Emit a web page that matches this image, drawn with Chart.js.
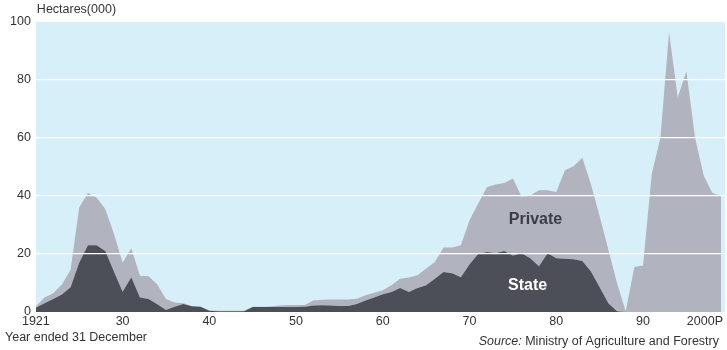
<!DOCTYPE html>
<html>
<head>
<meta charset="utf-8">
<title>New forest planting 1921-2000</title>
<script src="https://cdn.jsdelivr.net/npm/chart.js@4.4.0/dist/chart.umd.min.js"></script>
<style>
  html, body { margin: 0; padding: 0; background: #ffffff; }
  #plantingChart { display: block; }
</style>
</head>
<body>
<canvas id="plantingChart" width="727" height="350"></canvas>
<script>
// Planting years (year ended 31 December)
const years = [
  1921, 1922, 1923, 1924, 1925, 1926, 1927, 1928, 1929, 1930,
  1931, 1932, 1933, 1934, 1935, 1936, 1937, 1938, 1939, 1940,
  1941, 1942, 1943, 1944, 1945, 1946, 1947, 1948, 1949, 1950,
  1951, 1952, 1953, 1954, 1955, 1956, 1957, 1958, 1959, 1960,
  1961, 1962, 1963, 1964, 1965, 1966, 1967, 1968, 1969, 1970,
  1971, 1972, 1973, 1974, 1975, 1976, 1977, 1978, 1979, 1980,
  1981, 1982, 1983, 1984, 1985, 1986, 1987, 1988, 1989, 1990,
  1991, 1992, 1993, 1994, 1995, 1996, 1997, 1998, 1999, 2000
];

// New planting, hectares (000)
const statePlanting = [
  1.5, 3.0, 4.5, 6.0, 8.5, 17.0, 23.0, 23.0, 21.0, 14.0,
  7.0, 12.0, 5.0, 4.5, 2.7, 0.7, 1.8, 2.8, 2.0, 1.8,
  0.4, 0.3, 0.3, 0.3, 0.3, 1.7, 1.7, 1.7, 1.7, 1.7,
  1.7, 1.8, 2.2, 2.3, 2.2, 2.1, 2.1, 2.8, 4.0, 5.0,
  6.1, 6.9, 8.3, 6.9, 8.3, 9.2, 11.5, 13.8, 13.4, 12.0,
  16.5, 20.0, 20.7, 20.3, 21.0, 19.5, 20.3, 18.5, 15.8, 20.3,
  18.5, 18.4, 18.2, 17.6, 14.0, 8.5, 3.0, 0.3, 0, 0,
  0, 0, 0, 0, 0, 0, 0, 0, 0, 0
];

const privatePlanting = [
  0.5, 2.0, 2.0, 3.5, 6.0, 19.0, 18.0, 16.5, 14.5, 13.0,
  10.0, 10.0, 7.5, 7.8, 6.8, 3.8, 1.5, 0.2, 0, 0,
  0.1, 0.1, 0.1, 0.1, 0.1, 0.1, 0.1, 0.2, 0.5, 0.7,
  0.7, 0.6, 1.8, 1.9, 2.1, 2.2, 2.2, 1.8, 1.8, 1.6,
  1.4, 2.3, 3.2, 5.0, 4.4, 5.8, 5.7, 8.4, 8.8, 11.0,
  15.1, 17.4, 22.3, 23.7, 23.5, 26.5, 19.4, 21.7, 26.2, 21.7,
  22.9, 30.5, 32.1, 35.6, 30.0, 24.5, 18.5, 9.7, 0.3, 15.5,
  16.0, 47.5, 60.0, 96.5, 74.0, 83.0, 60.0, 47.0, 41.0, 40.0
];

// Axis labels
const xTickYears = [1921, 1931, 1941, 1951, 1961, 1971, 1981, 1991, 2000];
const xTickLabels = ['1921', '30', '40', '50', '60', '70', '80', '90', '2000P'];
const yTicks = [0, 20, 40, 60, 80, 100];

const FONT = '"Liberation Sans", Arial, Helvetica, sans-serif';
const TEXT = '#333333';
const PLOT_BG = '#d7eff8';
const STATE_COLOUR = '#4d4f58';
const PRIVATE_COLOUR = '#b1b3be';

const toPoints = (values) => years.map((yr, i) => ({ x: yr, y: values[i] }));

// Plot background, axis texts, area names and source note
const decorations = {
  id: 'decorations',
  beforeDraw(chart) {
    const { ctx, chartArea: a } = chart;
    ctx.save();
    ctx.fillStyle = PLOT_BG;
    ctx.fillRect(a.left, a.top, a.right - a.left, a.bottom - a.top);
    ctx.restore();
  },
  afterDraw(chart) {
    const { ctx, chartArea: a, scales: { x, y } } = chart;
    ctx.save();
    ctx.fillStyle = TEXT;
    ctx.font = '12.5px ' + FONT;
    ctx.textBaseline = 'middle';

    // year labels under the plot
    xTickYears.forEach((yr, i) => {
      const last = i === xTickYears.length - 1;
      ctx.textAlign = last ? 'right' : 'center';
      ctx.fillText(xTickLabels[i], last ? a.right - 2 : x.getPixelForValue(yr), a.bottom + 10);
    });

    ctx.textAlign = 'left';
    ctx.fillText('Hectares(000)', a.left + 1, 10);
    ctx.fillText('Year ended 31 December', 5, 338);

    // source line, "Source:" in italics
    const rest = ' Ministry of Agriculture and Forestry';
    const restWidth = ctx.measureText(rest).width;
    ctx.textAlign = 'right';
    ctx.fillText(rest, 719, 342);
    ctx.font = 'italic 12.5px ' + FONT;
    ctx.fillText('Source:', 719 - restWidth, 342);

    // area names
    ctx.textAlign = 'center';
    ctx.font = 'bold 16px ' + FONT;
    ctx.fillStyle = '#3a3c47';
    ctx.fillText('Private', x.getPixelForValue(1978.6), y.getPixelForValue(32));
    ctx.fillStyle = '#ffffff';
    ctx.fillText('State', x.getPixelForValue(1977.7), y.getPixelForValue(9));
    ctx.restore();
  }
};

new Chart(document.getElementById('plantingChart'), {
  type: 'line',
  data: {
    datasets: [
      {
        label: 'State',
        data: toPoints(statePlanting),
        fill: 'origin',
        backgroundColor: STATE_COLOUR,
        borderColor: 'transparent',
        borderWidth: 0,
        pointRadius: 0,
        tension: 0,
      },
      {
        label: 'Private',
        data: toPoints(privatePlanting),
        fill: '-1',
        backgroundColor: PRIVATE_COLOUR,
        borderColor: 'transparent',
        borderWidth: 0,
        pointRadius: 0,
        tension: 0,
      },
    ],
  },
  options: {
    responsive: false,
    animation: false,
    devicePixelRatio: 1,
    layout: { padding: { left: 5, top: 22, right: 2, bottom: 38 } },
    plugins: {
      legend: { display: false },
      tooltip: { enabled: false },
    },
    scales: {
      x: {
        type: 'linear',
        min: 1921,
        max: 2000.45,
        display: false,
      },
      y: {
        stacked: true,
        min: 0,
        max: 100,
        afterBuildTicks: (scale) => { scale.ticks = yTicks.map((v) => ({ value: v })); },
        ticks: {
          color: TEXT,
          font: { family: FONT, size: 12.5 },
          padding: 5,
        },
        border: { display: false },
        grid: {
          z: 1,
          drawTicks: false,
          lineWidth: 1.2,
          color: (ctx) => (ctx.tick && (ctx.tick.value === 0 || ctx.tick.value === 100)) ? 'transparent' : '#ffffff',
        },
      },
    },
  },
  plugins: [decorations],
});
</script>
</body>
</html>
